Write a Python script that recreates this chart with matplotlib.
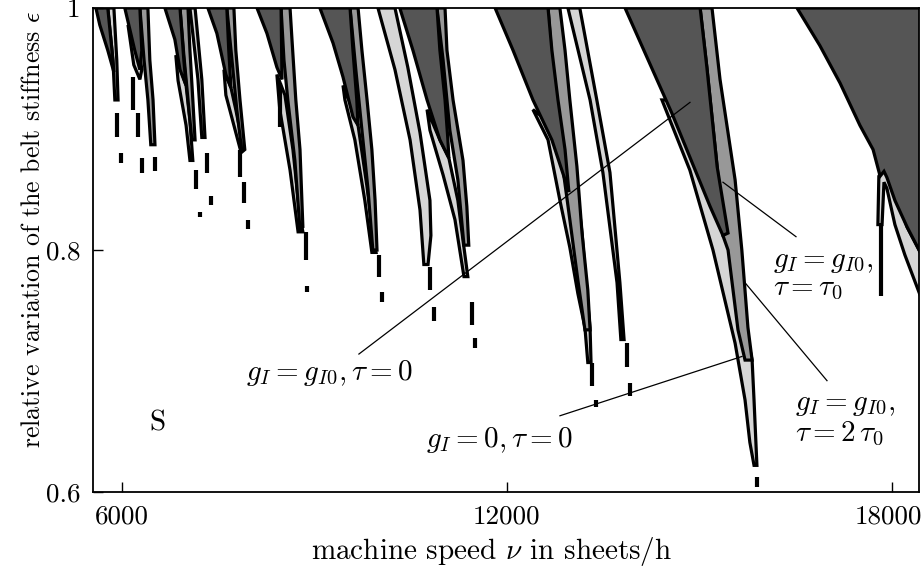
import matplotlib
matplotlib.use("Agg")
import matplotlib.pyplot as plt
from matplotlib.patches import Polygon
from matplotlib.transforms import ScaledTranslation

plt.rcParams["font.family"] = "serif"
plt.rcParams["font.serif"] = ["cmr10"]
plt.rcParams["mathtext.fontset"] = "cm"
plt.rcParams["axes.formatter.use_mathtext"] = True
plt.rcParams["font.size"] = 19

# instability regions, (speed in sheets/h, eps)
A_dark = [(5595, 1.0), (5780, 1.0), (5845, 0.965), (5875, 0.947), (5780, 0.965), (5655, 0.986)]
A_light = [(5780, 1.0), (5875, 1.0), (5920, 0.957), (5940, 0.924), (5890, 0.924), (5860, 0.957)]

B_dark = [(6045, 1.0), (6280, 1.0), (6310, 0.965), (6280, 0.949), (6200, 0.965), (6125, 0.982)]
B_light = [(6095, 0.986), (6250, 0.974), (6310, 0.949), (6280, 0.941), (6185, 0.953)]
B_mid = [(6280, 1.0), (6405, 1.0), (6435, 0.957), (6485, 0.924), (6515, 0.887),
         (6450, 0.887), (6405, 0.924), (6345, 0.957)]

C_dark = [(6670, 1.0), (6905, 1.0), (6965, 0.957), (7000, 0.936), (6905, 0.949), (6825, 0.974)]
C_light = [(6840, 0.961), (7000, 0.936), (7060, 0.907), (7105, 0.874), (7060, 0.874),
           (7000, 0.903), (6875, 0.940)]
C_mid = [(6905, 1.0), (7030, 1.0), (7060, 0.965), (7105, 0.924), (7140, 0.891),
         (7090, 0.891), (7030, 0.924), (6965, 0.961)]
C_strip = [(7060, 1.0), (7140, 1.0), (7245, 0.941), (7295, 0.893), (7245, 0.893), (7185, 0.941)]

D_dark = [(7340, 1.0), (7635, 1.0), (7665, 0.965), (7700, 0.934), (7620, 0.945), (7480, 0.979)]
D_mid = [(7635, 1.0), (7745, 1.0), (7775, 0.965), (7840, 0.924), (7915, 0.883),
         (7870, 0.881), (7790, 0.916), (7715, 0.957)]
D_light = [(7590, 0.949), (7700, 0.934), (7775, 0.916), (7900, 0.883), (7855, 0.881),
           (7745, 0.903), (7620, 0.928)]

E_dark = [(8105, 1.0), (8480, 1.0), (8495, 0.941), (8415, 0.951), (8260, 0.979)]
E_mid = [(8480, 1.0), (8620, 1.0), (8650, 0.974), (8710, 0.924), (8775, 0.883), (8820, 0.819),
         (8775, 0.817), (8695, 0.874), (8585, 0.924), (8525, 0.957)]
E_light = [(8415, 0.945), (8540, 0.928), (8665, 0.883), (8775, 0.827), (8820, 0.815),
           (8745, 0.815), (8620, 0.866), (8460, 0.916)]

F_dark = [(9085, 1.0), (9555, 1.0), (9600, 0.965), (9660, 0.924), (9680, 0.903),
          (9600, 0.910), (9445, 0.943), (9290, 0.971)]
F_mid = [(9555, 1.0), (9680, 1.0), (9740, 0.965), (9820, 0.924), (9895, 0.883), (9945, 0.841),
         (9975, 0.800), (9910, 0.800), (9835, 0.850), (9740, 0.899), (9645, 0.949)]
F_light = [(9445, 0.936), (9630, 0.912), (9680, 0.903), (9820, 0.852), (9910, 0.814),
           (9960, 0.798), (9895, 0.798), (9785, 0.841), (9630, 0.891), (9475, 0.924)]

G_side = [(9990, 1.0), (10255, 1.0), (10455, 0.951), (10645, 0.897), (10800, 0.841),
          (10815, 0.812), (10770, 0.788), (10705, 0.788), (10645, 0.833), (10490, 0.891),
          (10255, 0.949)]
G_dark = [(10330, 1.0), (10910, 1.0), (10955, 0.965), (11035, 0.924), (11080, 0.891),
          (11095, 0.876), (10955, 0.891), (10755, 0.924), (10535, 0.965)]
G_mid = [(10910, 1.0), (11035, 1.0), (11065, 0.965), (11160, 0.924), (11315, 0.874),
         (11375, 0.836), (11405, 0.804), (11330, 0.804), (11235, 0.858), (11110, 0.899),
         (11005, 0.957)]
G_light = [(10755, 0.916), (10955, 0.891), (11095, 0.876), (11235, 0.841), (11315, 0.808),
           (11390, 0.778), (11330, 0.778), (11190, 0.825), (11005, 0.862), (10800, 0.899)]

H_dark = [(11815, 1.0), (12640, 1.0), (12700, 0.965), (12795, 0.924), (12905, 0.883),
          (12965, 0.848), (12905, 0.858), (12700, 0.891), (12405, 0.924), (12095, 0.965)]
H_mid = [(12640, 1.0), (12825, 1.0), (12905, 0.965), (12980, 0.924), (13090, 0.869),
         (13170, 0.814), (13260, 0.767), (13295, 0.734), (13215, 0.734), (13105, 0.775),
         (12980, 0.825), (12855, 0.874), (12750, 0.924)]
H_light = [(12405, 0.916), (12640, 0.891), (12825, 0.841), (12980, 0.802), (13105, 0.764),
           (13215, 0.736), (13260, 0.707), (13310, 0.707), (13295, 0.736), (13245, 0.764),
           (13170, 0.814), (13060, 0.866), (12825, 0.899)]

I_light = [(12950, 1.0), (13135, 1.0), (13400, 0.924), (13605, 0.864), (13760, 0.773),
           (13825, 0.726), (13775, 0.726), (13715, 0.773), (13495, 0.864), (13295, 0.924)]

J_dark = [(13840, 1.0), (15010, 1.0), (15115, 0.951), (15275, 0.869), (15445, 0.814),
          (15365, 0.812), (15165, 0.836), (14570, 0.913)]
J_mid = [(15010, 1.0), (15195, 1.0), (15320, 0.941), (15555, 0.858), (15660, 0.800),
         (15755, 0.736), (15820, 0.709), (15710, 0.709), (15600, 0.734), (15445, 0.800),
         (15365, 0.812), (15275, 0.869), (15115, 0.951)]
J_light = [(14415, 0.924), (14850, 0.866), (15210, 0.800), (15555, 0.723), (15710, 0.676),
           (15785, 0.641), (15850, 0.622), (15895, 0.622), (15850, 0.676), (15820, 0.709),
           (15630, 0.759), (15445, 0.808), (15010, 0.883), (14570, 0.924)]

K_dark = [(16520, 1.0), (18500, 1.0), (18500, 0.792), (18235, 0.819), (18045, 0.841),
          (17920, 0.860), (17875, 0.865), (17815, 0.861), (17705, 0.883), (17500, 0.903),
          (17190, 0.938), (16875, 0.969)]
K_light = [(17795, 0.861), (17875, 0.868), (17955, 0.861), (18235, 0.819), (18500, 0.792),
           (18500, 0.754), (18200, 0.796), (18045, 0.821), (17920, 0.851), (17875, 0.856),
           (17845, 0.821), (17780, 0.821)]

# isolated short unstable bits (speed, eps top, eps bottom)
dash_speed = [5922, 5984, 6170, 6250, 6310, 6515, 7153, 7216, 7325, 7387, 7839, 7901, 7964,
              8462, 8868, 8883, 10005, 10052, 10800, 10862, 11454, 11501, 13324, 13387,
              13870, 13917, 15896, 17830]
dash_top = [0.913, 0.880, 0.943, 0.913, 0.876, 0.877, 0.866, 0.831, 0.880, 0.845, 0.883, 0.856,
            0.825, 0.938, 0.815, 0.770, 0.796, 0.765, 0.786, 0.753, 0.757, 0.727, 0.707, 0.676,
            0.723, 0.690, 0.612, 0.821]
dash_bottom = [0.893, 0.872, 0.916, 0.893, 0.864, 0.865, 0.850, 0.827, 0.864, 0.837, 0.860,
               0.839, 0.817, 0.902, 0.792, 0.765, 0.778, 0.757, 0.767, 0.741, 0.738, 0.719,
               0.688, 0.670, 0.703, 0.679, 0.604, 0.762]

light_regions = [A_light, B_light, C_light, C_strip, D_light, E_light, F_light, G_side,
                 G_light, H_light, I_light, J_light, K_light]
mid_regions = [B_mid, C_mid, D_mid, E_mid, F_mid, G_mid, H_mid, J_mid]
dark_regions = [A_dark, B_dark, C_dark, D_dark, E_dark, F_dark, G_dark, H_dark, J_dark, K_dark]

fig = plt.figure(figsize=(9.22, 5.67), dpi=100)
ax = fig.add_axes([0.1009, 0.1323, 0.8958, 0.8536])

for regions, col in [(light_regions, '#d6d6d6'), (mid_regions, '#989898'),
                     (dark_regions, '#555555')]:
    for r in regions:
        ax.add_patch(Polygon(r, closed=True, facecolor=col, edgecolor='black',
                             lw=2.3, joinstyle='miter'))

ax.vlines(dash_speed, dash_bottom, dash_top, colors='black', lw=3.0)

ax.set_xlim(5550, 18420)
ax.set_ylim(0.6, 1.0)
ax.set_xticks([6000, 12000, 18000])
ax.set_xticklabels(['6000', '12000', '18000'], fontsize=19.5)
ax.set_yticks([0.6, 0.8, 1.0])
ax.set_yticklabels(['0.6', '0.8', '1'], fontsize=19.5)
ax.tick_params(direction='in', length=7, width=1, pad=9)
# keep the last x label inside the figure
lab = ax.get_xticklabels()[-1]
lab.set_transform(lab.get_transform() + ScaledTranslation(-4 / 100, 0, fig.dpi_scale_trans))
for s in ax.spines.values():
    s.set_linewidth(1.3)

ax.set_xlabel(r'machine speed $\nu$ in sheets/h', fontsize=21)
ax.xaxis.set_label_coords(0.482, -0.088)
ax.set_ylabel(r'relative variation of the belt stiffness $\epsilon$', fontsize=18.6)
ax.yaxis.set_label_coords(-0.058, 0.543)

# annotations
ax.plot([9693, 14852], [0.714, 0.922], color='black', lw=0.9)
ax.text(9226, 0.698, r'$g_I = g_{I0}, \tau = 0$', ha='center', va='center', fontsize=21)
ax.plot([12826, 15662], [0.663, 0.712], color='black', lw=0.9)
ax.text(11875, 0.643, r'$g_I = 0, \tau = 0$', ha='center', va='center', fontsize=21)
ax.plot([16504, 15366], [0.811, 0.856], color='black', lw=0.9)
ax.text(16145, 0.790, r'$g_I = g_{I0},$', ha='left', va='center', fontsize=21)
ax.text(16145, 0.768, r'$\tau = \tau_0$', ha='left', va='center', fontsize=21)
ax.plot([16987, 15709], [0.692, 0.773], color='black', lw=0.9)
ax.text(16488, 0.672, r'$g_I = g_{I0},$', ha='left', va='center', fontsize=21)
ax.text(16488, 0.648, r'$\tau = 2\,\tau_0$', ha='left', va='center', fontsize=21)
ax.text(6561, 0.657, 'S', ha='center', va='center', fontsize=21)

fig.savefig('out.png', dpi=100)
